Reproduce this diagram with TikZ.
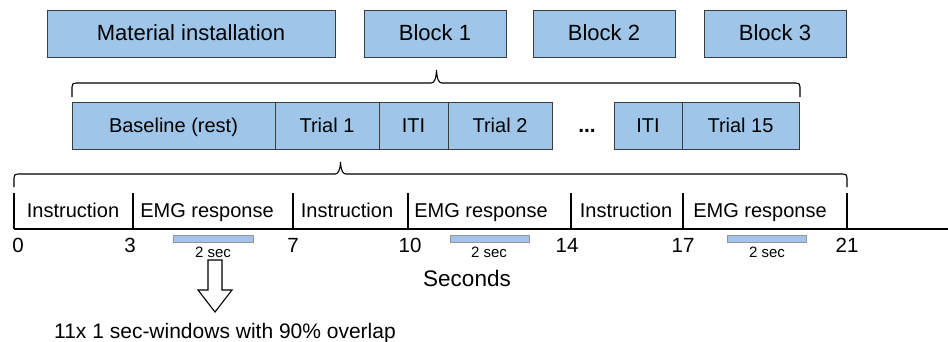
\documentclass[tikz,border=0pt]{standalone}
\usepackage{fontspec}
\setmainfont{Liberation Sans}
\definecolor{boxfill}{RGB}{159,197,232}
\definecolor{boxline}{RGB}{60,60,60}
\definecolor{barfill}{RGB}{164,194,234}
\definecolor{barline}{RGB}{150,150,150}
\begin{document}
\begin{tikzpicture}[x=1pt,y=-1pt,
  box/.style={draw=boxline, line width=0.9pt, fill=boxfill, minimum height=47pt, inner sep=0pt, text height=13pt, text depth=0pt},
  topbox/.style={box, font=\fontsize{22}{24}\selectfont},
  rowbox/.style={box, font=\fontsize{20}{22}\selectfont},
  lab/.style={anchor=base, inner sep=0pt, font=\fontsize{20}{22}\selectfont},
  num/.style={anchor=base, inner sep=0pt, font=\fontsize{20.5}{22}\selectfont},
  small/.style={anchor=base, inner sep=0pt, font=\fontsize{15}{17}\selectfont},
  brace/.style={draw=black, line width=1.1pt},
  tick/.style={draw=black, line width=2.6pt},
  bar/.style={draw=barline, line width=0.9pt, fill=barfill}]
\useasboundingbox (0,0) rectangle (948,341);
% top row
\node[topbox, minimum width=288pt] (mat) at (191,33.5) {Material installation};
\node[topbox, minimum width=142pt] (b1) at (435,33.5) {Block 1};
\node[topbox, minimum width=142pt] (b2) at (604,33.5) {Block 2};
\node[topbox, minimum width=142pt] (b3) at (775,33.5) {Block 3};
% brace 1
\draw[brace] (72,97) -- (72,87) .. controls (72,84) and (73,83) .. (76,83) -- (431,83)
  .. controls (434,83) and (436,80) .. (436.5,70)
  .. controls (437,80) and (439,83) .. (442,83) -- (796,83)
  .. controls (799,83) and (800,84) .. (800,87) -- (800,97);
% second row
\node[rowbox, minimum width=203pt] (base) at (173.5,125.5) {Baseline (rest)};
\node[rowbox, minimum width=104pt] (t1) at (327,125.5) {Trial 1};
\node[rowbox, minimum width=69pt] (iti1) at (413.5,125.5) {ITI};
\node[rowbox, minimum width=104pt] (t2) at (500,125.5) {Trial 2};
\node[anchor=base, inner sep=0pt, font=\fontsize{21}{22}\selectfont\bfseries] (dots) at (587,132) {...};
\node[rowbox, minimum width=68pt] (iti2) at (648,125.5) {ITI};
\node[rowbox, minimum width=117pt] (t15) at (740.5,125.5) {Trial 15};
% brace 2
\draw[brace] (14,187) -- (14,178) .. controls (14,175) and (15,174) .. (18,174) -- (335,174)
  .. controls (338,174) and (340,171) .. (340.5,162)
  .. controls (341,171) and (343,174) .. (346,174) -- (843,174)
  .. controls (846,174) and (847,175) .. (847,178) -- (847,187);
% timeline
\coordinate (t0) at (14,229);
\coordinate (tend) at (948,229);
\draw[tick] (t0) -- (tend);
\foreach \x in {14,133,293,408,571,683,847} {
  \draw[tick] (\x,193) -- (\x,229);
}
% segment labels
\node[lab] (s1) at (73,217) {Instruction};
\node[lab] (s2) at (207,217) {EMG response};
\node[lab] (s3) at (347,217) {Instruction};
\node[lab] (s4) at (481,217) {EMG response};
\node[lab] (s5) at (626,217) {Instruction};
\node[lab] (s6) at (760,217) {EMG response};
% numbers
\node[num] (n0) at (18,252) {0};
\node[num] (n3) at (130,252) {3};
\node[num] (n7) at (293,252) {7};
\node[num] (n10) at (410,252) {10};
\node[num] (n14) at (567,252) {14};
\node[num] (n17) at (683,252) {17};
\node[num] (n21) at (847,252) {21};
% bars
\draw[bar] (173,235) rectangle (253,242);
\draw[bar] (450,235) rectangle (529,242);
\draw[bar] (727,235) rectangle (806,242);
\node[small] (w1) at (213,257) {2 sec};
\node[small] (w2) at (489,257) {2 sec};
\node[small] (w3) at (767,257) {2 sec};
\node[anchor=base, inner sep=0pt, font=\fontsize{22.5}{24}\selectfont] (secs) at (467,286) {Seconds};
% hollow arrow
\draw[line width=1.1pt, fill=white] (208,260) -- (222,260) -- (222,290) -- (232,290) -- (215,312) -- (198,290) -- (208,290) -- cycle;
\node[anchor=base, inner sep=0pt, font=\fontsize{21}{23}\selectfont] (win) at (225,338) {11x 1 sec-windows with 90\% overlap};
\end{tikzpicture}
\end{document}
